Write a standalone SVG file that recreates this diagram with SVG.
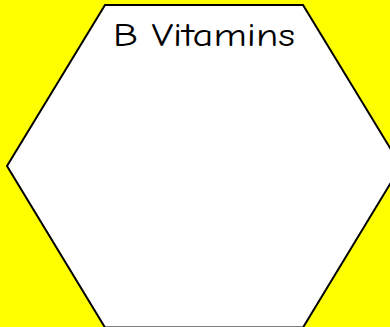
<svg xmlns="http://www.w3.org/2000/svg" width="390" height="327" viewBox="0 0 390 327">
<style>
.bg{fill:#ffff00}
.hex{fill:#ffffff;stroke:#000000;stroke-width:2;stroke-linejoin:miter}
.title{font-family:"Comic Sans MS","Comic Neue","DejaVu Sans","Liberation Sans",sans-serif;font-size:33px;fill:#000000}
</style>
<rect class="bg" x="0" y="0" width="390" height="327"/>
<g id="hexagon">
<polygon class="hex" points="105,5 303,5 401,166 303,327.5 105,327.5 7,166"/>
<text class="title" x="204" y="46" text-anchor="middle" textLength="182" lengthAdjust="spacingAndGlyphs">B Vitamins</text>
</g>
<g id="connectors"></g>
</svg>
